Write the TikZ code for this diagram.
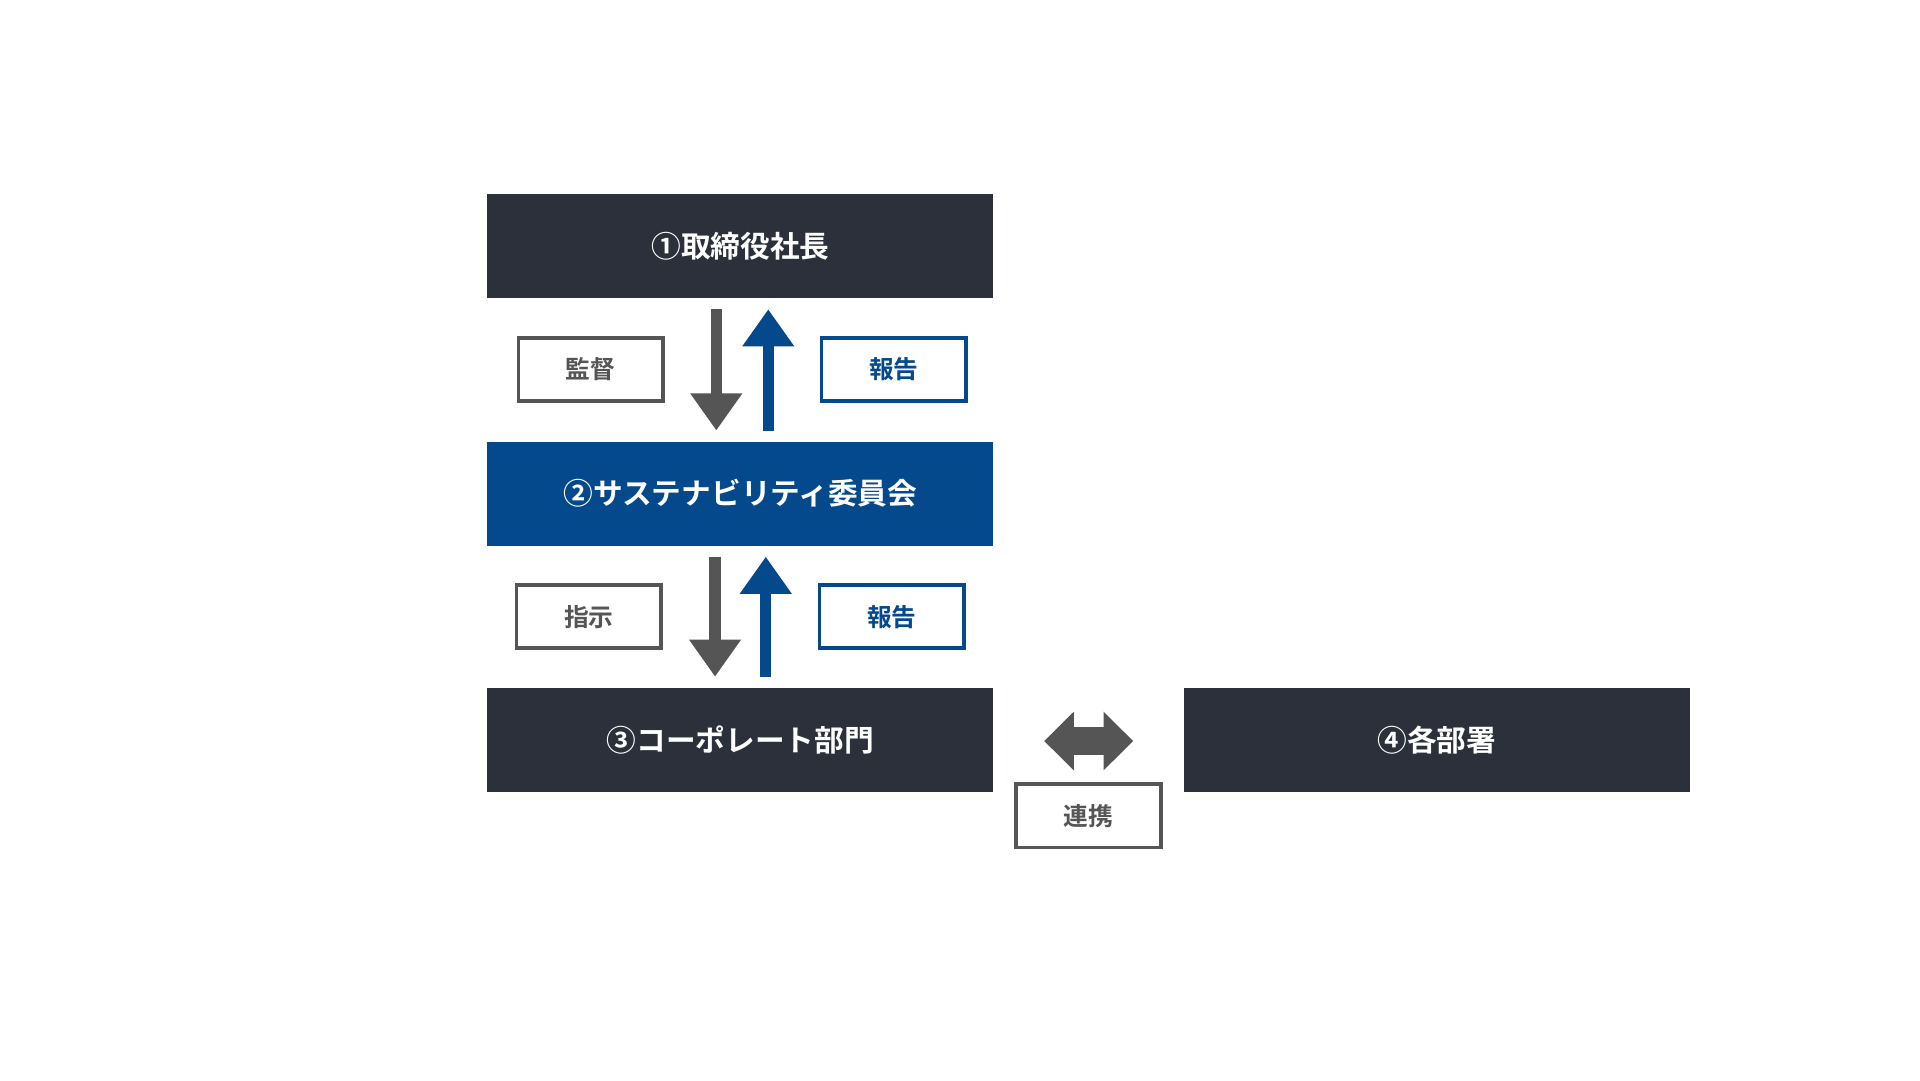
\documentclass[tikz,border=0pt]{standalone}
\usepackage{fontspec}
\setmainfont{Noto Sans CJK JP}[BoldFont={* Bold}]
\usetikzlibrary{arrows.meta}
\definecolor{navyD}{HTML}{2B303B}
\definecolor{blueD}{HTML}{03498C}
\definecolor{grayD}{HTML}{555555}
\tikzset{
  mainbox/.style={minimum width=409pt,minimum height=84pt,inner sep=0pt,
    text=white,font=\bfseries\fontsize{24}{28}\selectfont},
  tagbox/.style={draw,line width=3pt,fill=white,minimum width=117pt,
    minimum height=51pt,inner sep=0pt,font=\bfseries\fontsize{20}{24}\selectfont},
  downarr/.style={grayD,line width=9pt,-{Triangle[width=40pt,length=30pt]}},
  uparr/.style={blueD,line width=9pt,-{Triangle[width=40pt,length=30pt]}},
}
\begin{document}
\begin{tikzpicture}[x=1pt,y=-1pt]
  \useasboundingbox (0,0) rectangle (1552,873);

  \node[mainbox,fill=navyD] (ceo)   at (598.5,199) {①取締役社長};
  \node[mainbox,fill=blueD] (sust)  at (598.5,399) {②サステナビリティ委員会};
  \node[mainbox,fill=navyD] (corp)  at (598.5,598.5) {③コーポレート部門};
  \node[mainbox,fill=navyD] (dept)  at (1161.5,598.5) {④各部署};

  \node[tagbox,draw=grayD,text=grayD] (kantoku) at (477.5,298.5) {監督};
  \node[tagbox,draw=blueD,text=blueD] (hokoku1) at (722.5,298.5) {報告};
  \node[tagbox,draw=grayD,text=grayD] (shiji)   at (476,498.5) {指示};
  \node[tagbox,draw=blueD,text=blueD] (hokoku2) at (721,498.5) {報告};
  \node[tagbox,draw=grayD,text=grayD] (renkei)  at (880,659.5) {連携};

  \coordinate (d1s) at (579,250);  \coordinate (d1e) at (579,348);
  \coordinate (u1s) at (621,348);  \coordinate (u1e) at (621,250);
  \coordinate (d2s) at (578,450);  \coordinate (d2e) at (578,547);
  \coordinate (u2s) at (619,547);  \coordinate (u2e) at (619,450);

  \draw[downarr] (d1s) -- (d1e);
  \draw[uparr]   (u1s) -- (u1e);
  \draw[downarr] (d2s) -- (d2e);
  \draw[uparr]   (u2s) -- (u2e);

  \coordinate (lnk1) at (844,599);
  \coordinate (lnk2) at (916,599);
  \draw[grayD,line width=22pt,{Triangle[width=46pt,length=24pt]}-{Triangle[width=46pt,length=24pt]}]
    (lnk1) -- (lnk2);
\end{tikzpicture}
\end{document}
